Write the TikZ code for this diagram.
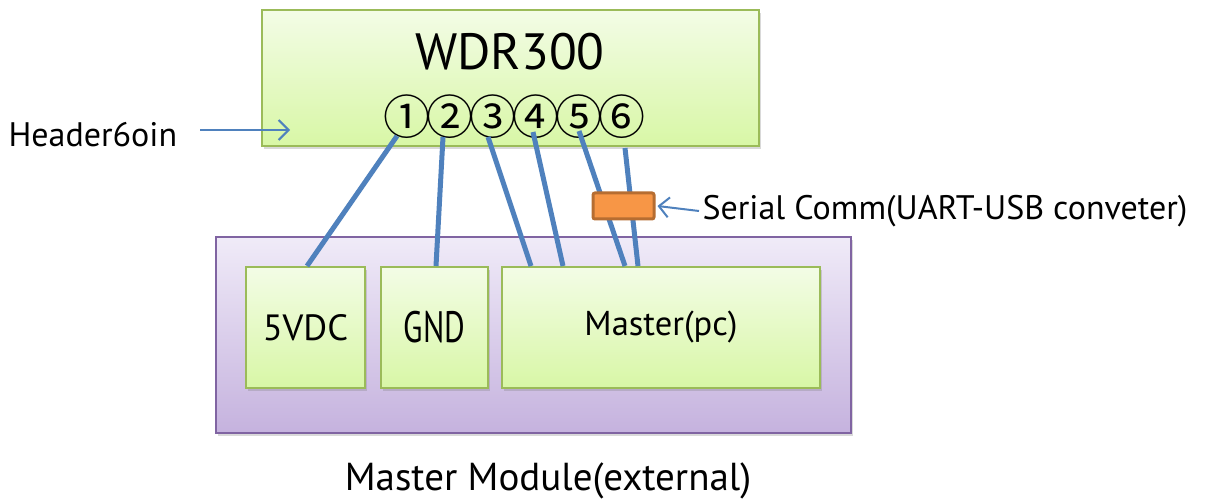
\documentclass[tikz,border=0pt]{standalone}
\usepackage{fontspec}
\setmainfont{PT Sans}
\newfontfamily\symfont{Noto Sans CJK SC}
\usetikzlibrary{shadows,arrows.meta,calc}

\definecolor{boxline}{HTML}{9BBB59}
\definecolor{boxtop}{HTML}{F3FCE6}
\definecolor{boxbot}{HTML}{D8F7A6}
\definecolor{modline}{HTML}{8064A2}
\definecolor{modtop}{HTML}{F0EBF8}
\definecolor{modbot}{HTML}{C5B2DE}
\definecolor{wireblue}{HTML}{4F81BD}
\definecolor{usbfill}{HTML}{F79646}
\definecolor{usbline}{HTML}{B66D31}

\begin{document}
\begin{tikzpicture}[x=1pt,y=-1pt,
    greenbox/.style={draw=boxline, line width=2pt, top color=boxtop, bottom color=boxbot,
      drop shadow={shadow xshift=2pt, shadow yshift=-3pt, opacity=0.3}},
    pin/.style={inner sep=0pt, font=\symfont\fontsize{47}{47}\selectfont},
    wire/.style={wireblue, line width=5pt},
    pointer/.style={wireblue, line width=2pt, -{Straight Barb[length=10pt,width=20pt,line width=2pt]}}]
    \useasboundingbox (0,0) rectangle (1209,502);
    % outer module
    \node[draw=modline, line width=2pt, top color=modtop, bottom color=modbot,
      drop shadow={shadow xshift=2pt, shadow yshift=-3pt, opacity=0.3},
      minimum width=635pt, minimum height=196pt] (module) at (533.5,335) {};
    \node[greenbox, minimum width=119pt, minimum height=121pt,
      font=\fontsize{36.5}{36.5}\selectfont] (vdc) at (305.5,327.5) {5VDC};
    \node[greenbox, minimum width=107pt, minimum height=121pt,
      font=\fontsize{44}{44}\selectfont] (gnd) at (434.5,327.5) {\scalebox{0.72}[1]{GND}};
    \node[greenbox, minimum width=318pt, minimum height=121pt,
      font=\fontsize{34.5}{34.5}\selectfont] (master) at (661,327.5) {Master(pc)};
    \node[font=\fontsize{39}{39}\selectfont] (modlabel) at (548,481) {Master Module(external)};
    % the board
    \node[greenbox, minimum width=497pt, minimum height=136pt] (wdr) at (510.5,78) {};
    \node[font=\fontsize{51}{51}\selectfont] (title) at (510,52) {WDR300};
    \foreach \i/\c/\x in {1/①/407,2/②/450,3/③/493,4/④/536,5/⑤/579,6/⑥/622}
      \node[pin] (p\i) at (\x,117) {\c};
    \node[font=\fontsize{34}{34}\selectfont, anchor=west] (hdr) at (5,135) {Header6oin};
    \coordinate (hdrtip) at (290,130);
    \draw[pointer] (200,130) -- (hdrtip);
    % wires
    \draw[wire] ([shift={(-10,19)}]p1.center) -- ([xshift=1.5pt]vdc.north);
    \draw[wire] ([shift={(-7,20)}]p2.center) -- ([xshift=1.5pt]gnd.north);
    \draw[wire] ([shift={(-5,20)}]p3.center) -- ([xshift=30pt]master.north west);
    \draw[wire] ([shift={(-3,15)}]p4.center) -- ([xshift=62pt]master.north west);
    \draw[wire] ([shift={(0,14)}]p5.center) -- ([xshift=124pt]master.north west);
    \draw[wire] ([shift={(3,31)}]p6.center) -- ([xshift=137pt]master.north west);
    % converter
    \node[draw=usbline, line width=3pt, fill=usbfill, rounded corners=2pt,
      minimum width=61pt, minimum height=26pt] (usb) at (623.5,206) {};
    \node[font=\fontsize{34}{34}\selectfont, anchor=west] (serial) at (699,211) {Serial Comm(UART-USB conveter)};
    \draw[pointer] (serial.west) -- ([xshift=2pt]usb.east);
\end{tikzpicture}
\end{document}
